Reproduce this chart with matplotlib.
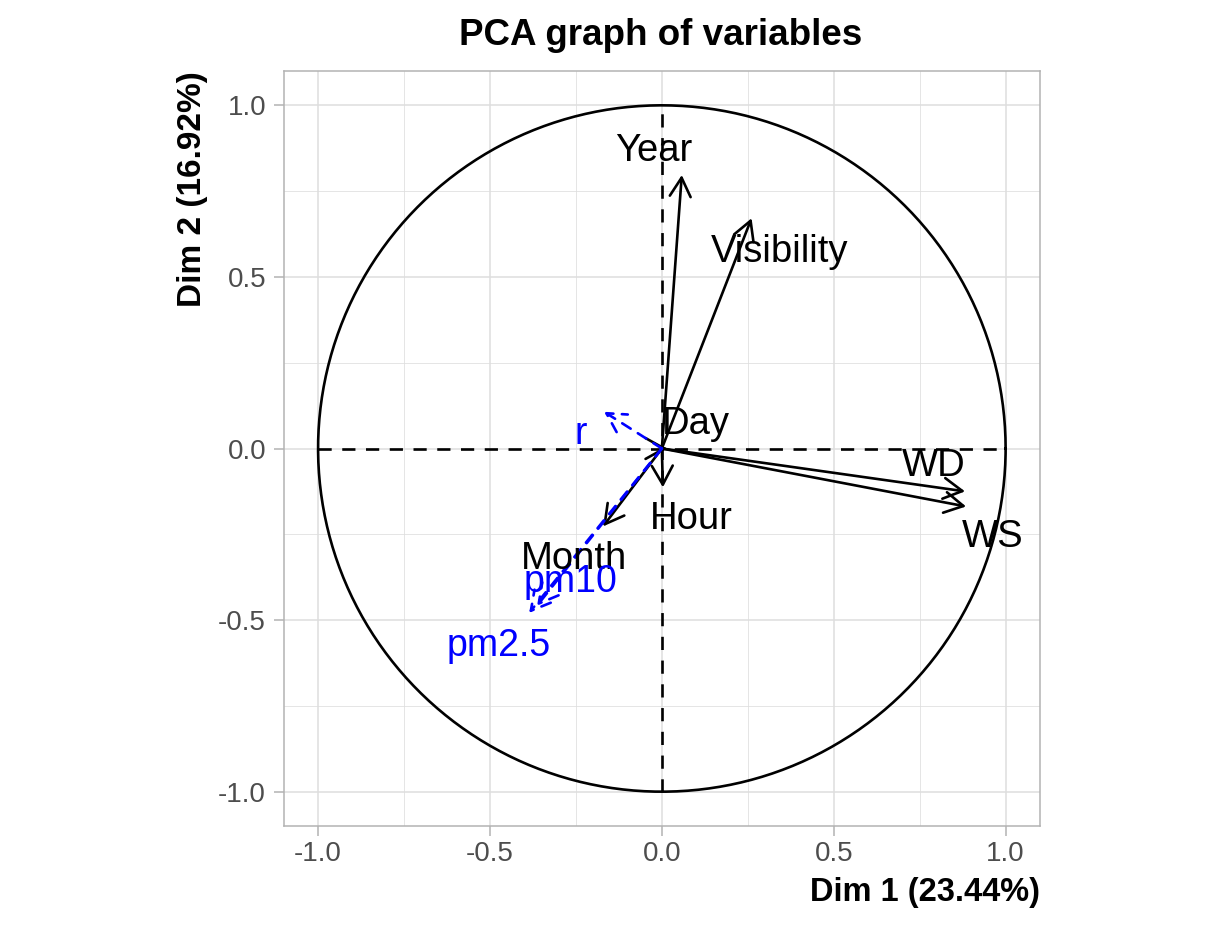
import matplotlib
matplotlib.use("Agg")
import matplotlib.pyplot as plt
import numpy as np

plt.rcParams['font.family'] = ['Liberation Sans', 'DejaVu Sans']
plt.rcParams['axes.unicode_minus'] = False

# Active variables (coordinates on Dim 1 / Dim 2)
var_names = ["Year", "Month", "Day", "Hour", "WS", "WD", "Visibility"]
var_dim1 = [0.058, -0.171, 0.015, 0.003, 0.885, 0.882, 0.261]
var_dim2 = [0.797, -0.227, 0.000, -0.113, -0.169, -0.125, 0.671]
# label positions (as placed in the chart)
var_lab_x = [-0.025, -0.257, 0.099, 0.087, 0.962, 0.790, 0.342]
var_lab_y = [0.837, -0.351, 0.041, -0.235, -0.288, -0.080, 0.544]

# Supplementary quantitative variables
sup_names = ["pm2.5", "pm10", "r"]
sup_dim1 = [-0.386, -0.363, -0.168]
sup_dim2 = [-0.479, -0.458, 0.107]
sup_lab_x = [-0.475, -0.267, -0.235]
sup_lab_y = [-0.605, -0.419, 0.012]

ticks = [-1.0, -0.5, 0.0, 0.5, 1.0]
tick_labels = ["-1.0", "-0.5", "0.0", "0.5", "1.0"]
minor_ticks = [-0.75, -0.25, 0.25, 0.75]

title = "PCA graph of variables"
xlab = "Dim 1 (23.44%)"
ylab = "Dim 2 (16.92%)"

W, H = 1217, 930
fig = plt.figure(figsize=(W / 100, H / 100), dpi=100)
ax = fig.add_axes([283.7 / W, 1 - 826 / H, (1040 - 283.7) / W, (826 - 71) / H])
ax.set_xlim(-1.1, 1.1)
ax.set_ylim(-1.1, 1.1)

grid_col = "#DEDEDE"
for t in ticks:
    ax.axvline(t, color=grid_col, lw=1.1, zorder=0)
    ax.axhline(t, color=grid_col, lw=1.1, zorder=0)
for t in minor_ticks:
    ax.axvline(t, color=grid_col, lw=0.55, zorder=0)
    ax.axhline(t, color=grid_col, lw=0.55, zorder=0)

# circle
th = np.linspace(0, 2 * np.pi, 400)
ax.plot(np.cos(th), np.sin(th), color="black", lw=1.9, zorder=2)
# dashed axes
ax.plot([-1, 1], [0, 0], color="black", lw=1.9, ls=(0, (5.0, 4.0)), zorder=2)
ax.plot([0, 0], [-1, 1], color="black", lw=1.9, ls=(0, (5.0, 4.0)), zorder=2)

astyle = "->,head_length=1.35,head_width=0.75"
for x, y in zip(var_dim1, var_dim2):
    ax.annotate("", xy=(x, y), xytext=(0, 0),
                arrowprops=dict(arrowstyle=astyle, color="black", lw=1.9,
                                shrinkA=0, shrinkB=0, mutation_scale=10),
                zorder=3)
for x, y in zip(sup_dim1, sup_dim2):
    ax.annotate("", xy=(x, y), xytext=(0, 0),
                arrowprops=dict(arrowstyle=astyle, color="#0000FF", lw=1.9,
                                linestyle=(0, (3.8, 3.2)),
                                shrinkA=0, shrinkB=0, mutation_scale=10),
                zorder=3)

for n, x, y in zip(var_names, var_lab_x, var_lab_y):
    ax.text(x, y, n, ha="center", va="baseline", fontsize=27.5, color="black", zorder=4)
for n, x, y in zip(sup_names, sup_lab_x, sup_lab_y):
    ax.text(x, y, n, ha="center", va="baseline", fontsize=27, color="#0000FF", zorder=4)

ax.set_xticks(ticks)
ax.set_xticklabels(tick_labels)
ax.set_yticks(ticks)
ax.set_yticklabels(tick_labels)
ax.tick_params(axis="both", colors="#B3B3B3", labelcolor="#4D4D4D",
               labelsize=20, length=7.2, width=1.1)
ax.tick_params(axis="x", pad=3.5)
ax.tick_params(axis="y", pad=5.5)
for s in ax.spines.values():
    s.set_color("#B3B3B3")
    s.set_linewidth(1.1)

fig.text(661 / W, 1 - 45 / H, title, ha="center", va="baseline",
         fontsize=26.5, fontweight="bold")
fig.text(1040 / W, 1 - 901 / H, xlab, ha="right", va="baseline",
         fontsize=23.5, fontweight="bold")
fig.text(193 / W, 1 - 71 / H, ylab, ha="center", va="top", rotation=90,
         fontsize=24, fontweight="bold")

fig.savefig("out.png", dpi=100)
